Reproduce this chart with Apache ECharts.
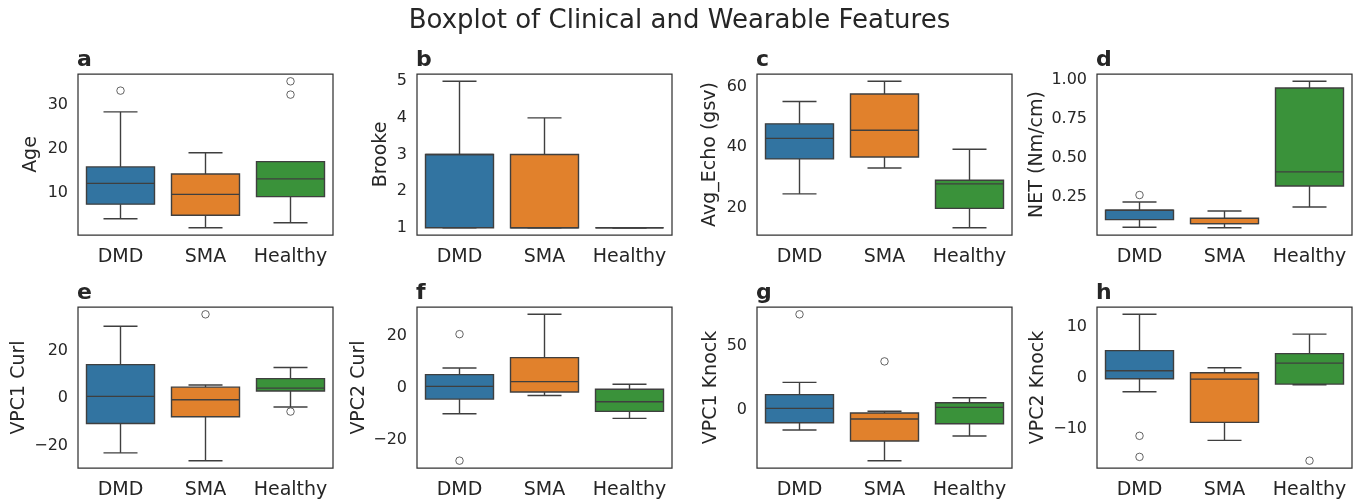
<!DOCTYPE html>
<html><head><meta charset="utf-8">
<script src="https://cdn.jsdelivr.net/npm/echarts@6.0.0/dist/echarts.min.js"></script>
<style>html,body{margin:0;padding:0;background:#fff}#c{width:1359px;height:501px}</style>
</head><body><div id="c"></div>
<script>
const categories = ['DMD', 'SMA', 'Healthy'];
const groupColors = ['#3274A1', '#E1812C', '#3A923A'];
const panelLetters = ['a', 'b', 'c', 'd', 'e', 'f', 'g', 'h'];
const featureNames = ['Age', 'Brooke', 'Avg_Echo (gsv)', 'NET (Nm/cm)', 'VPC1 Curl', 'VPC2 Curl', 'VPC1 Knock', 'VPC2 Knock'];

// per group: [lower whisker, Q1, median, Q3, upper whisker]
const ageStats = [[4.2, 7.5, 12.2, 15.9, 28.3], [2.2, 5.0, 9.7, 14.3, 19.1], [3.3, 9.2, 13.2, 17.1, 17.1]];
const ageOutliers = [[0, 33.1], [2, 35.2], [2, 32.2]];
const brookeStats = [[1, 1, 3, 3, 5], [1, 1, 1, 3, 4], [1, 1, 1, 1, 1]];
const brookeOutliers = [];
const echoStats = [[24.5, 36.1, 42.9, 47.7, 55.1], [33.1, 36.7, 45.6, 57.6, 61.8], [13.3, 19.7, 27.8, 29.0, 39.3]];
const echoOutliers = [];
const netStats = [[0.054, 0.103, 0.163, 0.163, 0.216], [0.051, 0.077, 0.077, 0.112, 0.158], [0.184, 0.319, 0.41, 0.949, 0.992]];
const netOutliers = [[0, 0.261]];
const vpc1CurlStats = [[-23.1, -10.7, 0.7, 14.1, 30.3], [-26.4, -7.9, -0.7, 4.6, 5.5], [-3.8, 3.0, 4.2, 8.2, 12.9]];
const vpc1CurlOutliers = [[1, 35.3], [2, -5.7]];
const vpc2CurlStats = [[-9.9, -4.3, 0.6, 5.1, 7.6], [-2.9, -1.6, 2.4, 11.6, 28.2], [-11.7, -9.0, -5.3, -0.5, 1.4]];
const vpc2CurlOutliers = [[0, 20.6], [0, -27.9]];
const vpc1KnockStats = [[-15.6, -9.9, 1.3, 12.0, 21.6], [-39.6, -24.2, -7.0, -2.3, -1.0], [-20.3, -10.7, 2.1, 5.7, 9.6]];
const vpc1KnockOutliers = [[0, 74.8], [1, 38.0]];
const vpc2KnockStats = [[-2.75, -0.2, 1.37, 5.35, 12.5], [-12.35, -8.8, -0.27, 0.98, 1.96], [-1.37, -1.25, 2.87, 4.76, 8.6]];
const vpc2KnockOutliers = [[0, -11.45], [0, -15.6], [2, -16.35]];

const ageTicks = [10, 20, 30];
const brookeTicks = [1, 2, 3, 4, 5];
const echoTicks = [20, 40, 60];
const netTicks = [0.25, 0.5, 0.75, 1.0];
const vpc1CurlTicks = [-20, 0, 20];
const vpc2CurlTicks = [-20, 0, 20];
const vpc1KnockTicks = [0, 50];
const vpc2KnockTicks = [-10, 0, 10];

const panelStats = [ageStats, brookeStats, echoStats, netStats, vpc1CurlStats, vpc2CurlStats, vpc1KnockStats, vpc2KnockStats];
const panelOutliers = [ageOutliers, brookeOutliers, echoOutliers, netOutliers, vpc1CurlOutliers, vpc2CurlOutliers, vpc1KnockOutliers, vpc2KnockOutliers];
const panelTicks = [ageTicks, brookeTicks, echoTicks, netTicks, vpc1CurlTicks, vpc2CurlTicks, vpc1KnockTicks, vpc2KnockTicks];
const tickDecimals = [0, 0, 0, 2, 0, 0, 0, 0];

// layout
const colLefts = [78, 417, 757, 1097];
const rowTops = [74, 307];
const plotW = 255, plotH = 161;
const nameGaps = [37, 26, 37, 50, 49, 48, 36, 49];
const FONT = 'DejaVu Sans';
const TXT = '#262626';
const LINE = '#3f3f3f';

function fmt(d) {
  return function (v) {
    const s = Math.abs(v).toFixed(d);
    return v < 0 ? '\u2212' + s : s;
  };
}

function boxRender(params, api) {
  const i = api.value(0);
  const lo = api.coord([i, api.value(1)]);
  const q1 = api.coord([i, api.value(2)]);
  const md = api.coord([i, api.value(3)]);
  const q3 = api.coord([i, api.value(4)]);
  const hi = api.coord([i, api.value(5)]);
  const bw = api.size([1, 0])[0] * 0.8;
  const cx = lo[0];
  const ls = { stroke: LINE, lineWidth: 1.4 };
  return {
    type: 'group',
    children: [
      { type: 'line', shape: { x1: cx, y1: q1[1], x2: cx, y2: lo[1] }, style: ls },
      { type: 'line', shape: { x1: cx, y1: q3[1], x2: cx, y2: hi[1] }, style: ls },
      { type: 'line', shape: { x1: cx - bw / 4, y1: lo[1], x2: cx + bw / 4, y2: lo[1] }, style: ls },
      { type: 'line', shape: { x1: cx - bw / 4, y1: hi[1], x2: cx + bw / 4, y2: hi[1] }, style: ls },
      { type: 'rect', shape: { x: cx - bw / 2, y: q3[1], width: bw, height: q1[1] - q3[1] },
        style: { fill: groupColors[i], stroke: LINE, lineWidth: 1.4 } },
      { type: 'line', shape: { x1: cx - bw / 2, y1: md[1], x2: cx + bw / 2, y2: md[1] }, style: ls }
    ]
  };
}

const grids = [], xAxes = [], yAxes = [], series = [];
const titles = [{
  text: 'Boxplot of Clinical and Wearable Features', left: 'center', top: 3,
  textStyle: { fontFamily: FONT, fontSize: 26, fontWeight: 'normal', color: TXT }
}];

for (let p = 0; p < 8; p++) {
  const col = p % 4, row = Math.floor(p / 4);
  grids.push({ left: colLefts[col], top: rowTops[row], width: plotW, height: plotH,
    show: true, borderColor: '#333', borderWidth: 1.25, backgroundColor: 'transparent' });
  titles.push({ text: panelLetters[p], left: colLefts[col] - 1, top: rowTops[row] - 25, padding: 0,
    textStyle: { fontFamily: FONT, fontSize: 22, fontWeight: 'bold', color: TXT } });
  const stats = panelStats[p], outs = panelOutliers[p];
  const vals = [];
  stats.forEach(s => vals.push(...s));
  outs.forEach(o => vals.push(o[1]));
  const dmin = Math.min(...vals), dmax = Math.max(...vals);
  const pad = (dmax - dmin) * 0.05;
  xAxes.push({ type: 'category', gridIndex: p, data: categories, boundaryGap: true,
    axisLine: { show: false }, axisTick: { show: false }, splitLine: { show: false },
    axisLabel: { fontFamily: FONT, fontSize: 19, color: TXT, margin: 13, interval: 0 } });
  yAxes.push({ type: 'value', gridIndex: p, min: dmin - pad, max: dmax + pad,
    name: featureNames[p], nameLocation: 'middle', nameGap: nameGaps[p], nameRotate: 90,
    nameTextStyle: { fontFamily: FONT, fontSize: 19, color: TXT },
    axisLine: { show: false }, splitLine: { show: false },
    axisTick: { show: false, customValues: panelTicks[p] },
    axisLabel: { customValues: panelTicks[p], formatter: fmt(tickDecimals[p]),
      fontFamily: FONT, fontSize: 16, color: TXT, margin: 10 } });
  series.push({ type: 'custom', xAxisIndex: p, yAxisIndex: p, renderItem: boxRender,
    encode: { x: 0, y: [1, 2, 3, 4, 5] }, clip: false,
    data: stats.map((s, i) => [i].concat(s)) });
  series.push({ type: 'scatter', xAxisIndex: p, yAxisIndex: p, symbol: 'circle', symbolSize: 7.5,
    itemStyle: { color: 'rgba(255,255,255,0)', borderColor: LINE, borderWidth: 1 },
    data: outs.map(o => [o[0], o[1]]) });
}

const chart = echarts.init(document.getElementById('c'), null, { renderer: 'canvas' });
chart.setOption({ animation: false, backgroundColor: '#fff', title: titles,
  grid: grids, xAxis: xAxes, yAxis: yAxes, series: series, tooltip: { show: false } });
</script></body></html>
